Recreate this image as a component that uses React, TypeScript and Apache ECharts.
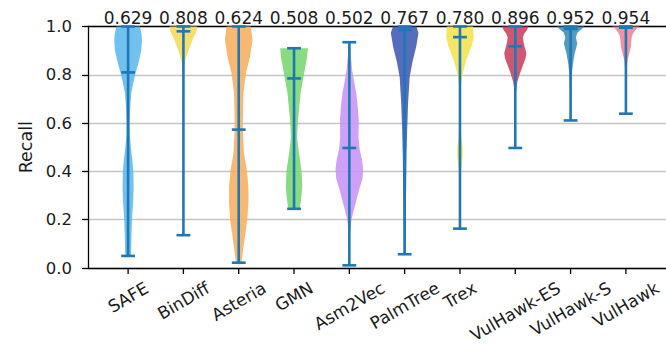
import React, { useEffect, useRef } from "react";
import * as echarts from "echarts";

// Methods on the x axis
const categories = [
  "SAFE",
  "BinDiff",
  "Asteria",
  "GMN",
  "Asm2Vec",
  "PalmTree",
  "Trex",
  "VulHawk-ES",
  "VulHawk-S",
  "VulHawk",
];

// Mean recall printed above each violin
const means = [0.629, 0.808, 0.624, 0.508, 0.502, 0.767, 0.78, 0.896, 0.952, 0.954];

// Extremes and medians of each distribution
const mins = [0.05, 0.136, 0.022, 0.245, 0.011, 0.057, 0.163, 0.497, 0.611, 0.639];
const maxs = [1.0, 1.0, 1.0, 0.91, 0.935, 1.0, 1.0, 1.0, 1.0, 1.0];
const medians = [0.81, 0.98, 0.573, 0.785, 0.497, 0.985, 0.956, 0.918, 0.99, 0.995];

// Kernel density profiles: [recall, density relative to the violin's peak]
const safeDensity = [
  [1.0, 0.85], [0.97, 0.97], [0.94, 1.0], [0.9, 0.95], [0.85, 0.75], [0.81, 0.55],
  [0.76, 0.35], [0.72, 0.22], [0.66, 0.15], [0.6, 0.12], [0.55, 0.12], [0.5, 0.2],
  [0.45, 0.3], [0.4, 0.38], [0.33, 0.4], [0.27, 0.36], [0.2, 0.28], [0.13, 0.24],
  [0.08, 0.22], [0.05, 0.2],
];
const binDiffDensity = [
  [1.0, 1.0], [0.98, 0.95], [0.95, 0.7], [0.92, 0.5], [0.89, 0.3], [0.86, 0.15],
  [0.83, 0.07], [0.78, 0.04], [0.5, 0.03], [0.136, 0.02],
];
const asteriaDensity = [
  [1.0, 0.88], [0.944, 1.0], [0.874, 0.81], [0.81, 0.53], [0.725, 0.34], [0.61, 0.3],
  [0.57, 0.3], [0.475, 0.38], [0.405, 0.59], [0.335, 0.7], [0.27, 0.7], [0.2, 0.62],
  [0.13, 0.45], [0.06, 0.28], [0.022, 0.2],
];
const gmnDensity = [
  [0.91, 1.0], [0.874, 0.95], [0.81, 0.74], [0.725, 0.48], [0.61, 0.28], [0.54, 0.22],
  [0.475, 0.36], [0.405, 0.54], [0.335, 0.6], [0.28, 0.5], [0.245, 0.42],
];
const asm2VecDensity = [
  [0.935, 0.05], [0.88, 0.1], [0.82, 0.2], [0.76, 0.38], [0.725, 0.5], [0.66, 0.62],
  [0.61, 0.68], [0.54, 0.66], [0.49, 0.75], [0.447, 0.92], [0.41, 1.0], [0.37, 0.95],
  [0.323, 0.7], [0.253, 0.38], [0.2, 0.15], [0.15, 0.05], [0.08, 0.02], [0.011, 0.01],
];
const palmTreeDensity = [
  [1.0, 0.85], [0.973, 1.0], [0.915, 0.83], [0.85, 0.55], [0.79, 0.36], [0.683, 0.25],
  [0.57, 0.18], [0.475, 0.14], [0.3, 0.1], [0.15, 0.08], [0.057, 0.06],
];
const trexDensity = [
  [1.0, 0.95], [0.956, 1.0], [0.92, 0.85], [0.89, 0.65], [0.86, 0.45], [0.832, 0.32],
  [0.79, 0.14], [0.74, 0.05], [0.6, 0.03], [0.54, 0.1], [0.5, 0.2], [0.46, 0.2],
  [0.42, 0.12], [0.38, 0.03], [0.163, 0.01],
];
const vulHawkEsDensity = [
  [1.0, 0.95], [0.986, 0.85], [0.97, 0.65], [0.956, 0.55], [0.935, 0.6], [0.915, 0.68],
  [0.89, 0.8], [0.87, 0.75], [0.85, 0.62], [0.81, 0.36], [0.77, 0.15], [0.73, 0.05],
  [0.6, 0.02], [0.497, 0.02],
];
const vulHawkSDensity = [
  [1.0, 1.0], [0.99, 0.8], [0.975, 0.5], [0.956, 0.38], [0.93, 0.48], [0.91, 0.4],
  [0.89, 0.3], [0.85, 0.18], [0.8, 0.08], [0.7, 0.03], [0.611, 0.02],
];
const vulHawkDensity = [
  [1.0, 1.0], [0.99, 0.75], [0.97, 0.5], [0.956, 0.42], [0.93, 0.38], [0.915, 0.36],
  [0.89, 0.25], [0.86, 0.12], [0.82, 0.05], [0.7, 0.02], [0.639, 0.02],
];

const densities = [
  safeDensity, binDiffDensity, asteriaDensity, gmnDensity, asm2VecDensity,
  palmTreeDensity, trexDensity, vulHawkEsDensity, vulHawkSDensity, vulHawkDensity,
];

// Appearance
const violinColors = [
  "#5cb8ee", "#f5d95a", "#f8ae5e", "#78d66e", "#c793f7",
  "#3f59b5", "#f3e24d", "#c8405e", "#3c8bb5", "#f28294",
];
const STAT_COLOR = "#1f77b4";
const TEXT_COLOR = "#1c1c1c";
const FONT_FAMILY = "DejaVu Sans";
const LABEL_SIZE = 17;
const TICK_SIZE = 16.5;
const HALF_WIDTH = 0.25; // peak half-width of a violin in x units
const CAP_HALF = 0.125; // half-length of the min/max/median bars

function textWidth(text: string, size: number): number {
  const canvas = document.createElement("canvas");
  const ctx = canvas.getContext("2d");
  if (!ctx) return text.length * size * 0.6;
  ctx.font = `${size}px "${FONT_FAMILY}"`;
  return ctx.measureText(text).width;
}

export default function App() {
  const ref = useRef<HTMLDivElement>(null);

  useEffect(() => {
    if (!ref.current) return;
    const chart = echarts.init(ref.current, undefined, { renderer: "svg" });

    const labelWidths = categories.map((c) => textWidth(c, LABEL_SIZE));
    const rot = Math.PI / 6;
    const lineH = LABEL_SIZE;

    const renderItem = (params: any, api: any) => {
      const i = params.dataIndex;
      const pos = api.value(0);
      const dens = densities[i];
      const leftSide = dens.map(([v, w]) => api.coord([pos - w * HALF_WIDTH, v]));
      const rightSide = dens
        .slice()
        .reverse()
        .map(([v, w]) => api.coord([pos + w * HALF_WIDTH, v]));
      const points = leftSide.concat(rightSide);

      const [cx, yMin] = api.coord([pos, mins[i]]);
      const [, yMax] = api.coord([pos, maxs[i]]);
      const [, yMed] = api.coord([pos, medians[i]]);
      const [capL] = api.coord([pos - CAP_HALF, 0]);
      const [capR] = api.coord([pos + CAP_HALF, 0]);
      const [, yTop] = api.coord([pos, 1]);
      const [, yBottom] = api.coord([pos, 0]);

      const lineStyle = { stroke: STAT_COLOR, lineWidth: 2.6 };
      const bar = (y: number) => ({
        type: "line",
        shape: { x1: capL, y1: y, x2: capR, y2: y },
        style: lineStyle,
      });

      // rotated category label, bounding box hanging below the tick
      const w = labelWidths[i];
      const boxH = w * Math.sin(rot) + lineH * Math.cos(rot);
      const labelTop = yBottom + 11;

      return {
        type: "group",
        children: [
          {
            type: "polygon",
            shape: { points },
            style: { fill: violinColors[i], opacity: 0.88 },
          },
          {
            type: "line",
            shape: { x1: cx, y1: yMax, x2: cx, y2: yMin },
            style: lineStyle,
          },
          bar(yMax),
          bar(yMin),
          bar(yMed),
          {
            type: "line",
            shape: { x1: cx, y1: yBottom, x2: cx, y2: yBottom + 6 },
            style: { stroke: "#000", lineWidth: 1.3 },
          },
          {
            type: "text",
            x: cx,
            y: yTop,
            style: {
              text: means[i].toFixed(3),
              x: 0,
              y: 0,
              fill: TEXT_COLOR,
              fontSize: LABEL_SIZE,
              fontFamily: FONT_FAMILY,
              align: "center",
              verticalAlign: "bottom",
            },
          },
          {
            type: "text",
            x: cx,
            y: labelTop + boxH / 2,
            rotation: rot,
            style: {
              text: categories[i],
              x: 0,
              y: 0,
              fill: TEXT_COLOR,
              fontSize: LABEL_SIZE,
              fontFamily: FONT_FAMILY,
              align: "center",
              verticalAlign: "middle",
            },
          },
        ],
      };
    };

    chart.setOption({
      animation: false,
      grid: { left: 88, right: -3, top: 26.5, bottom: 77 },
      xAxis: [
        {
          type: "value",
          min: 0.275,
          max: 10.725,
          axisLine: { show: true, lineStyle: { color: "#000", width: 1.3 } },
          axisTick: { show: false },
          axisLabel: { show: false },
          splitLine: { show: false },
        },
        {
          type: "value",
          position: "top",
          min: 0.275,
          max: 10.725,
          axisLine: { show: true, lineStyle: { color: "#000", width: 1.3 } },
          axisTick: { show: false },
          axisLabel: { show: false },
          splitLine: { show: false },
        },
      ],
      yAxis: {
        type: "value",
        min: 0,
        max: 1,
        interval: 0.2,
        name: "Recall",
        nameLocation: "middle",
        nameGap: 48,
        nameTextStyle: { color: TEXT_COLOR, fontSize: 17.5, fontFamily: FONT_FAMILY },
        axisLine: { show: true, lineStyle: { color: "#000", width: 1.3 } },
        axisTick: { show: true, length: 6, lineStyle: { color: "#000", width: 1.3 } },
        axisLabel: {
          color: TEXT_COLOR,
          fontSize: TICK_SIZE,
          fontFamily: FONT_FAMILY,
          margin: 16,
          formatter: (v: number) => v.toFixed(1),
        },
        splitLine: { show: true, lineStyle: { color: "#c4c4c4", width: 1.3 } },
      },
      series: [
        {
          type: "custom",
          clip: false,
          renderItem,
          data: categories.map((_, i) => [i + 1, mins[i], maxs[i], medians[i]]),
          encode: { x: 0, y: [1, 2] },
        },
      ],
    });

    return () => chart.dispose();
  }, []);

  return (
    <div
      ref={ref}
      style={{ position: "absolute", left: 0, top: 0, width: 666, height: 345 }}
    />
  );
}
